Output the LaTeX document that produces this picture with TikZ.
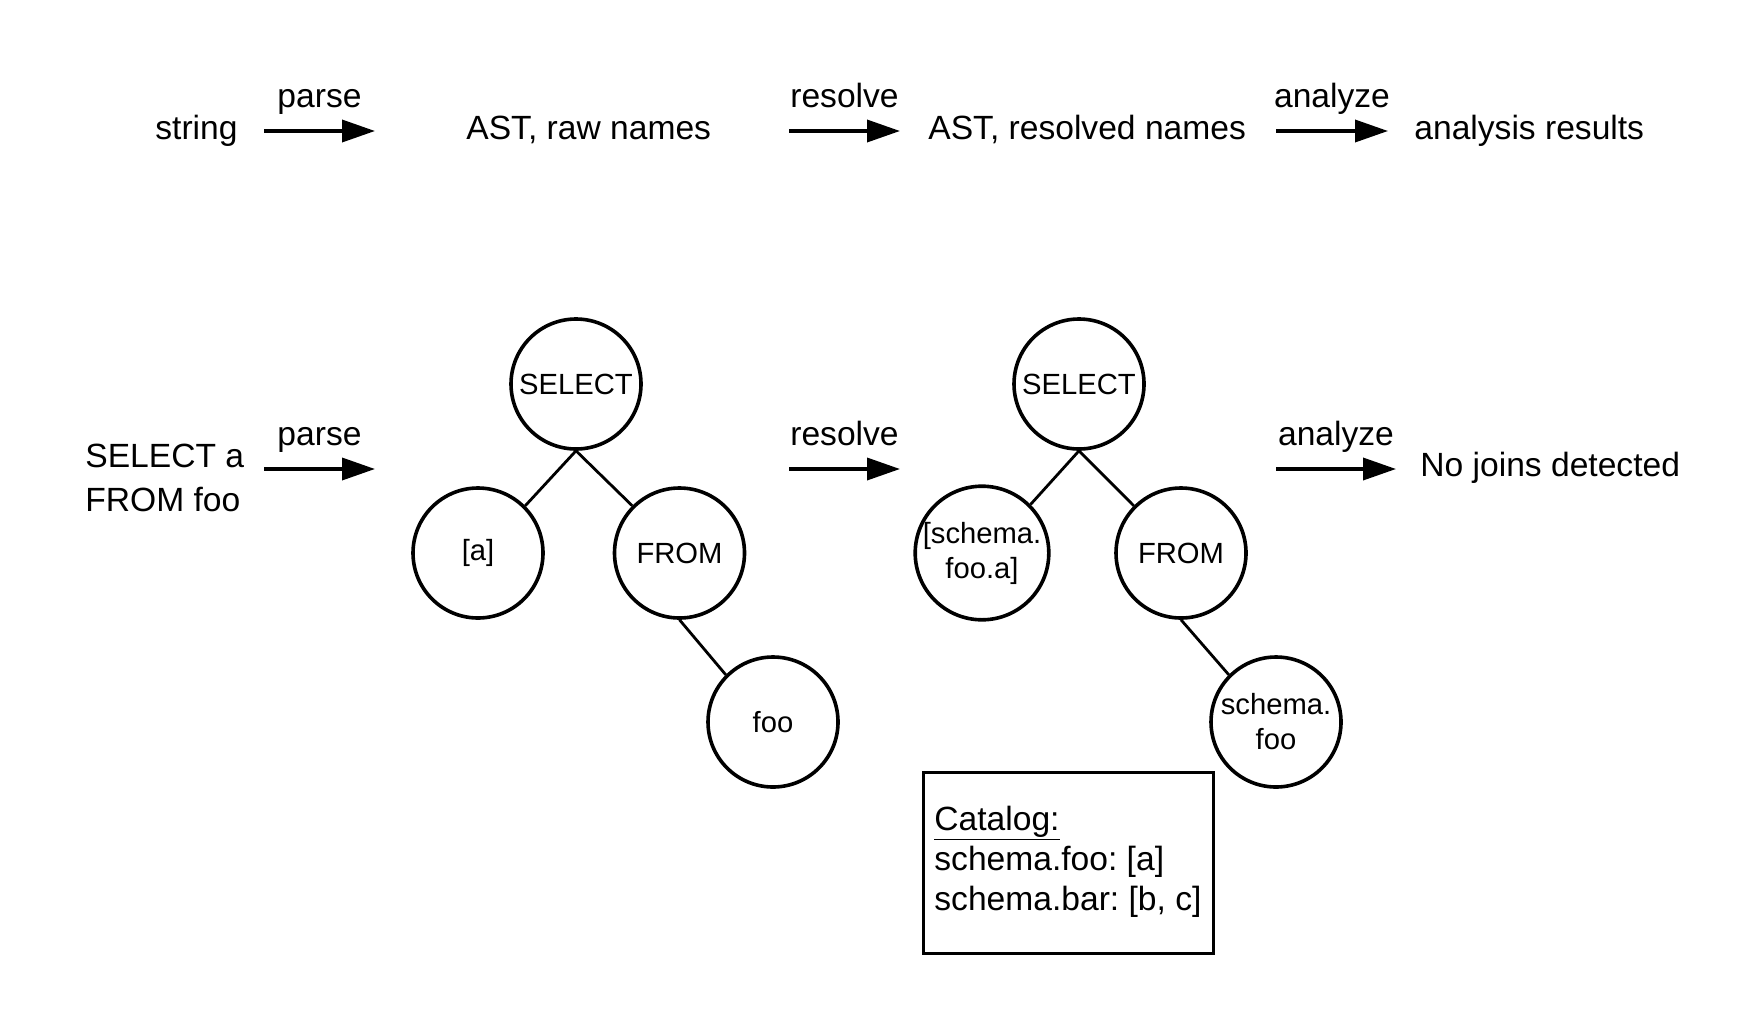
\documentclass[tikz,border=0pt]{standalone}
\usepackage{fontspec}
\setmainfont{Liberation Sans}
\usetikzlibrary{arrows.meta}
\frenchspacing
\begin{document}
\begin{tikzpicture}[x=0.5pt,y=-0.5pt,
  lbl/.style={inner sep=0pt, anchor=base west, font=\fontsize{16.8}{20}\selectfont},
  arrlabel/.style={inner sep=0pt, anchor=base, font=\fontsize{16.8}{20}\selectfont},
  tnode/.style={circle, draw, line width=1.8pt, minimum size=65pt, inner sep=0pt, align=center, font=\fontsize{14.6}{17.5}\selectfont},
  flow/.style={line width=1.8pt, -{Triangle[length=16.5pt,width=11pt]}},
  treeedge/.style={line width=1.4pt},
  catbox/.style={draw, line width=1.4pt, anchor=north west, minimum width=145pt, minimum height=90.5pt, inner sep=0pt}]
\useasboundingbox (0,0) rectangle (1764,1028);

% ---- top row ----
\node[lbl] (string) at (155,139) {string};
\node[lbl] (astraw) at (466,139) {AST, raw names};
\node[lbl] (astres) at (928,139) {AST, resolved names};
\node[lbl] (results) at (1414,139) {analysis results};

\coordinate (t1a) at (264,131); \coordinate (t1b) at (375,131);
\coordinate (t2a) at (789,131); \coordinate (t2b) at (900,131);
\coordinate (t3a) at (1276,131); \coordinate (t3b) at (1388,131);
\draw[flow] (t1a) -- (t1b);
\draw[flow] (t2a) -- (t2b);
\draw[flow] (t3a) -- (t3b);
\node[arrlabel] (tl1) at (319.5,107) {parse};
\node[arrlabel] (tl2) at (844.5,107) {resolve};
\node[arrlabel] (tl3) at (1332,107) {analyze};

% ---- second row ----
\node[lbl] (q1) at (85,467) {SELECT a};
\node[lbl] (q2) at (85,511) {FROM foo};
\node[lbl] (nojoins) at (1420,476) {No joins detected};

\coordinate (b1a) at (264,469); \coordinate (b1b) at (375,469);
\coordinate (b2a) at (789,469); \coordinate (b2b) at (900,469);
\coordinate (b3a) at (1276,469); \coordinate (b3b) at (1396,469);
\draw[flow] (b1a) -- (b1b);
\draw[flow] (b2a) -- (b2b);
\draw[flow] (b3a) -- (b3b);
\node[arrlabel] (bl1) at (319.5,445) {parse};
\node[arrlabel] (bl2) at (844.5,445) {resolve};
\node[arrlabel] (bl3) at (1336,445) {analyze};

% ---- left tree ----
\node[tnode] (selL) at (576,384) {SELECT};
\node[tnode] (aL) at (478,553) {[a]};
\node[tnode] (fromL) at (679.5,553) {FROM};
\node[tnode] (fooL) at (773,722) {foo};
\draw[treeedge] (selL.south) -- (aL.45);
\draw[treeedge] (selL.south) -- (fromL.135);
\draw[treeedge] (fromL.south) -- (fooL.135);

% ---- right tree ----
\node[tnode] (selR) at (1079,384) {SELECT};
\node[tnode] (aR) at (982,553) {[schema.\\foo.a]};
\node[tnode] (fromR) at (1181,553) {FROM};
\node[tnode] (fooR) at (1276,722) {schema.\\foo};
\draw[treeedge] (selR.south) -- (aR.45);
\draw[treeedge] (selR.south) -- (fromR.135);
\draw[treeedge] (fromR.south) -- (fooR.135);

% ---- catalog ----
\node[catbox] (cat) at (922,771) {};
\node[lbl] (c1) at (934,830) {\underline{Catalog:}};
\node[lbl] (c2) at (934,870) {schema.foo: [a]};
\node[lbl] (c3) at (934,910) {schema.bar: [b, c]};
\end{tikzpicture}
\end{document}
